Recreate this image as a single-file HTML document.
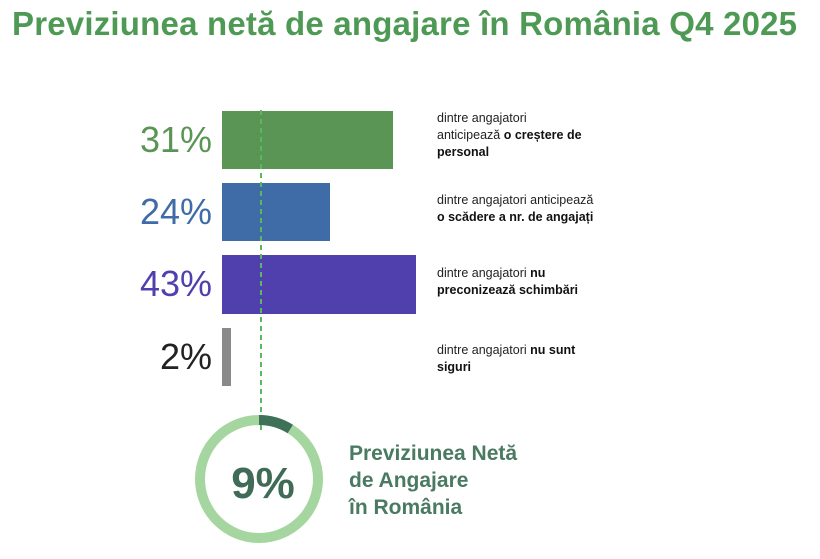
<!DOCTYPE html>
<html><head><meta charset="utf-8"><style>
body{margin:0;width:820px;height:559px;background:#fff;position:relative;overflow:hidden;font-family:"Liberation Sans",Arial,sans-serif}
.t{position:absolute;left:12px;top:5px;font-size:33px;font-weight:bold;color:#4e9a55;white-space:nowrap;letter-spacing:0.2px}
.bar{position:absolute;left:222px}
.pct{position:absolute;right:608px;font-size:36px;text-align:right}
.d{position:absolute;left:437px;font-size:12.5px;line-height:17px;color:#222}
.d b{color:#111}
</style></head><body>
<div class="t">Previziunea netă de angajare în România Q4 2025</div>
<div class="bar" style="top:111px;width:171px;height:58px;background:#5b9556"></div>
<div class="bar" style="top:183px;width:108px;height:58px;background:#3f6ca6"></div>
<div class="bar" style="top:255px;width:194px;height:59px;background:#5040ae"></div>
<div class="bar" style="top:328px;width:9px;height:58px;background:#8a8a8a"></div>
<div class="pct" style="top:119px;color:#5b9556">31%</div>
<div class="pct" style="top:191px;color:#3f6ca6">24%</div>
<div class="pct" style="top:263px;color:#5040ae">43%</div>
<div class="pct" style="top:336px;color:#222">2%</div>
<div class="d" style="top:110px">dintre angajatori<br>anticipează <b>o creștere de<br>personal</b></div>
<div class="d" style="top:192px">dintre angajatori anticipează<br><b>o scădere a nr. de angajați</b></div>
<div class="d" style="top:265px">dintre angajatori <b>nu<br>preconizează schimbări</b></div>
<div class="d" style="top:342px">dintre angajatori <b>nu sunt<br>siguri</b></div>
<svg width="820" height="559" style="position:absolute;left:0;top:0">
<line x1="261" y1="110" x2="261" y2="432" stroke="#5cb85c" stroke-width="2" stroke-dasharray="5,4"/>
<circle cx="259" cy="479" r="59" fill="none" stroke="#a6d6a0" stroke-width="10"/>
<path d="M259 420 A59 59 0 0 1 290.3 429" fill="none" stroke="#3f7058" stroke-width="10"/>
<text x="263" y="498" font-size="44" font-weight="bold" fill="#3f6b57" text-anchor="middle" font-family="Liberation Sans, sans-serif">9%</text>
<g font-size="21" font-weight="bold" fill="#4a7a62" font-family="Liberation Sans, sans-serif">
<text x="349" y="460">Previziunea Netă</text>
<text x="349" y="487">de Angajare</text>
<text x="349" y="514">în România</text>
</g>
</svg>
</body></html>
